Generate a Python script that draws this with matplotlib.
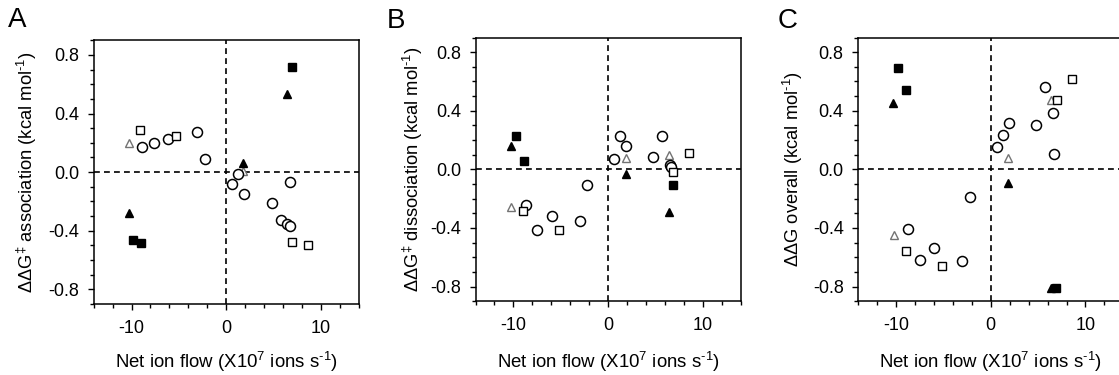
import numpy as np
import matplotlib
matplotlib.use('agg')
import matplotlib.pyplot as plt
from matplotlib.ticker import MultipleLocator

plt.rcParams['font.family'] = ['Liberation Sans', 'DejaVu Sans']
plt.rcParams['mathtext.fontset'] = 'custom'
plt.rcParams['mathtext.rm'] = 'Liberation Sans'
plt.rcParams['mathtext.it'] = 'Liberation Sans'
plt.rcParams['axes.unicode_minus'] = False

# ---- panel A: association ----
a_circ_x = [-8.9, -7.6, -6.1, -3.1, -2.2, 0.6, 1.2, 1.9, 4.8, 5.8, 6.4, 6.7, 6.7]
a_circ_y = [0.17, 0.20, 0.225, 0.275, 0.09, -0.08, -0.01, -0.15, -0.21, -0.325, -0.355, -0.365, -0.065]
a_sqo_x = [-9.1, -5.3, 6.9, 8.6]
a_sqo_y = [0.29, 0.25, -0.475, -0.495]
a_trio_x = [-10.3, 1.8]
a_trio_y = [0.20, 0.005]
a_sqf_x = [-9.9, -9.0, 6.9]
a_sqf_y = [-0.465, -0.485, 0.715]
a_trif_x = [-10.3, 1.8, 6.4]
a_trif_y = [-0.28, 0.065, 0.535]

# ---- panel B: dissociation ----
b_circ_x = [-8.7, -7.45, -5.95, -3.0, -2.2, 0.6, 1.25, 1.9, 4.8, 5.7, 6.5, 6.7]
b_circ_y = [-0.245, -0.415, -0.32, -0.35, -0.105, 0.07, 0.225, 0.16, 0.085, 0.225, 0.03, 0.015]
b_sqo_x = [-9.0, -5.2, 6.9, 8.6]
b_sqo_y = [-0.285, -0.415, -0.02, 0.115]
b_trio_x = [-10.2, 1.9, 6.4]
b_trio_y = [-0.26, 0.08, 0.10]
b_sqf_x = [-9.7, -8.9, 6.9]
b_sqf_y = [0.225, 0.06, -0.105]
b_trif_x = [-10.2, 1.9, 6.4]
b_trif_y = [0.16, -0.03, -0.29]

# ---- panel C: overall ----
c_circ_x = [-8.8, -7.5, -6.0, -3.05, -2.2, 0.65, 1.3, 1.9, 4.8, 5.7, 6.6, 6.7]
c_circ_y = [-0.41, -0.62, -0.54, -0.625, -0.19, 0.15, 0.235, 0.315, 0.30, 0.56, 0.385, 0.105]
c_sqo_x = [-9.0, -5.2, 7.0, 8.6]
c_sqo_y = [-0.56, -0.66, 0.47, 0.62]
c_trio_x = [-10.25, 1.85, 6.4]
c_trio_y = [-0.45, 0.08, 0.47]
c_sqf_x = [-9.8, -9.0, 6.9]
c_sqf_y = [0.695, 0.545, -0.81]
c_trif_x = [-10.3, 1.85, 6.4]
c_trif_y = [0.45, -0.09, -0.81]

letters = ['A', 'B', 'C']
ylabels = [r'ΔΔG$^{‡}$ association (kcal mol$^{\text{-1}}$)',
           r'ΔΔG$^{‡}$ dissociation (kcal mol$^{\text{-1}}$)',
           r'ΔΔG overall (kcal mol$^{\text{-1}}$)']
xlabel = r'Net ion flow (X10$^{7}$ ions s$^{\text{-1}}$)'

panels = [
    (a_circ_x, a_circ_y, a_sqo_x, a_sqo_y, a_trio_x, a_trio_y, a_sqf_x, a_sqf_y, a_trif_x, a_trif_y),
    (b_circ_x, b_circ_y, b_sqo_x, b_sqo_y, b_trio_x, b_trio_y, b_sqf_x, b_sqf_y, b_trif_x, b_trif_y),
    (c_circ_x, c_circ_y, c_sqo_x, c_sqo_y, c_trio_x, c_trio_y, c_sqf_x, c_sqf_y, c_trif_x, c_trif_y),
]

W, H = 1119., 375.
fig = plt.figure(figsize=(W/100, H/100), dpi=100)

# axes boxes in pixels: left, top
boxes = [(93.7, 40.3), (475.5, 37.5), (858.3, 37.5)]
aw, ah = 265., 263.7
ylab_x = [27, 413, 793]
let_pos = [(8, 7), (387, 8), (778, 8)]

for i in range(3):
    cx, cy, sx, sy, tx, ty, fsx, fsy, ftx, fty = panels[i]
    l, t = boxes[i]
    ax = fig.add_axes([l/W, 1-(t+ah)/H, aw/W, ah/H])
    ax.axhline(0, color='k', lw=1.2, ls=(0, (3.5, 2.5)), zorder=1)
    ax.axvline(0, color='k', lw=1.2, ls=(0, (3.5, 2.5)), zorder=1)
    ax.plot(tx, ty, '^', ms=6.4, mfc='white', mec='0.45', mew=1.0, ls='none', zorder=2)
    ax.plot(cx, cy, 'o', ms=7.2, mfc='white', mec='k', mew=1.1, ls='none', zorder=3)
    ax.plot(sx, sy, 's', ms=5.8, mfc='white', mec='k', mew=1.0, ls='none', zorder=3)
    ax.plot(fsx, fsy, 's', ms=6.0, mfc='k', mec='k', ls='none', zorder=4)
    ax.plot(ftx, fty, '^', ms=6.4, mfc='k', mec='k', ls='none', zorder=4)

    ax.set_xlim(-14, 14)
    ax.set_ylim(-0.9, 0.9)
    ax.set_xticks([-10, 0, 10])
    ax.set_yticks([-0.8, -0.4, 0.0, 0.4, 0.8])
    ax.set_yticklabels(['-0.8', '-0.4', '0.0', '0.4', '0.8'])
    ax.xaxis.set_minor_locator(MultipleLocator(2))
    ax.yaxis.set_minor_locator(MultipleLocator(0.1))
    ax.tick_params(which='both', direction='out', top=False, right=False,
                   labelsize=13, width=1.0, color='k')
    ax.tick_params(which='major', length=4.5)
    ax.tick_params(which='minor', length=2.8)
    ax.tick_params(axis='x', pad=7)
    ax.tick_params(axis='y', pad=6)
    for sp in ax.spines.values():
        sp.set_linewidth(1.1)

    ax.set_xlabel(xlabel, fontsize=13.4)
    ax.xaxis.set_label_coords(0.5, (t+ah-362)/ah, transform=ax.transAxes)
    ax.xaxis.label.set_va('center')

    ax.set_ylabel(ylabels[i], fontsize=13.2)
    ax.yaxis.set_label_coords((ylab_x[i]-l)/aw, 0.5, transform=ax.transAxes)
    ax.yaxis.label.set_va('center')

    lx, ly = let_pos[i]
    fig.text(lx/W, 1-ly/H, letters[i], fontsize=20, ha='left', va='top')

fig.savefig('out.png', dpi=100)
